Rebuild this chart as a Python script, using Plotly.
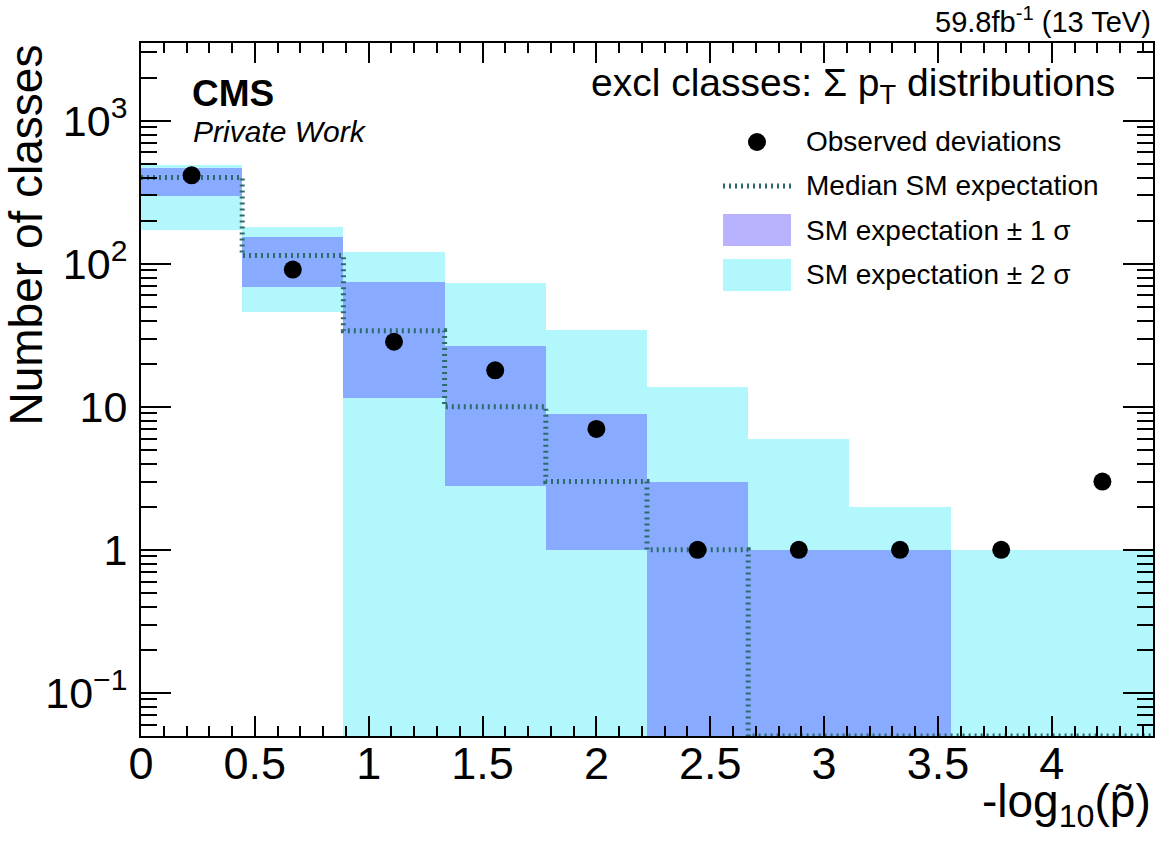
import plotly.graph_objects as go

# ---------------- data ----------------
bin_edges = [0.0, 0.4444, 0.8889, 1.3333, 1.7778, 2.2222, 2.6667, 3.1111, 3.5556, 4.0, 4.4444]
observed = [415, 91, 28.5, 18, 7, 1, 1, 1, 1, 3]
median = [400, 114, 34, 10, 3, 1, 0, 0, 0, 0]
sig1_lo = [296, 69, 11.6, 2.8, 1, 0, 0, 0, 0, 0]
sig1_hi = [467, 155, 74, 26.7, 8.9, 3, 1, 1, 0, 0]
sig2_lo = [171, 46, 0, 0, 0, 0, 0, 0, 0, 0]
sig2_hi = [492, 181, 121, 73.6, 34.5, 13.8, 6, 2, 1, 1]

y_tickvals = [0.1, 1, 10, 100, 1000]
y_ticktext = ["10<sup>\u22121</sup>", "1", "10", "10<sup>2</sup>", "10<sup>3</sup>"]

# ---------------- styling ----------------
FONT = "Liberation Sans, Arial, Helvetica, sans-serif"
W, H = 1159, 843
L, R, T, B = 141, 6, 43, 107
YMIN_LOG, YMAX_LOG = -1.301, 3.543
FLOOR = 1e-3  # zero content drawn off the bottom (clipped), as ROOT does

CYAN = "#b2f7fc"
BLUE = "#88aaff"
LAVENDER = "#b9b3fe"
TEAL = "#2e6b6b"

centers = [(bin_edges[i] + bin_edges[i + 1]) / 2 for i in range(len(bin_edges) - 1)]
widths = [bin_edges[i + 1] - bin_edges[i] for i in range(len(bin_edges) - 1)]


def band(lo, hi):
    base = [v if v > 0 else FLOOR for v in lo]
    h = [(hv - b) if hv > 0 else None for hv, b in zip(hi, base)]
    return base, h


fig = go.Figure()

b2, h2 = band(sig2_lo, sig2_hi)
fig.add_trace(go.Bar(x=centers, y=h2, base=b2, width=widths, marker=dict(color=CYAN, line=dict(width=0)),
                     showlegend=False, name="SM expectation \u00b1 2 \u03c3"))
b1, h1 = band(sig1_lo, sig1_hi)
fig.add_trace(go.Bar(x=centers, y=h1, base=b1, width=widths, marker=dict(color=BLUE, line=dict(width=0)),
                     showlegend=False, name="SM expectation \u00b1 1 \u03c3"))

med_plot = [v if v > 0 else 10 ** YMIN_LOG for v in median]
fig.add_trace(go.Scatter(x=bin_edges, y=med_plot + [med_plot[-1]], mode="lines", line_shape="hv",
                         line=dict(color=TEAL, width=5, dash="2px,4px"), showlegend=False,
                         name="Median SM expectation"))

fig.add_trace(go.Scatter(x=centers, y=observed, mode="markers",
                         marker=dict(color="black", size=18, line=dict(width=0)),
                         showlegend=False, name="Observed deviations", cliponaxis=False))

fig.update_layout(
    width=W, height=H,
    margin=dict(l=L, r=R, t=T, b=B, pad=0, autoexpand=False),
    plot_bgcolor="white", paper_bgcolor="white",
    barmode="overlay", bargap=0,
    font=dict(family=FONT, color="black"),
    showlegend=False,
)

fig.update_xaxes(
    range=[bin_edges[0], bin_edges[-1]], showgrid=False, zeroline=False,
    showline=True, linecolor="black", linewidth=2, mirror="allticks",
    ticks="inside", ticklen=20, tickwidth=1.5, tickcolor="black",
    dtick=0.5, tick0=0, tickfont=dict(size=45, family=FONT),
    minor=dict(ticks="inside", ticklen=10, tickwidth=1.5, tickcolor="black", dtick=0.1, showgrid=False),
    ticklabelstandoff=-13, automargin=False,
)

minor_vals = [m * 10 ** e for e in range(-2, 4) for m in range(2, 10)]
fig.update_yaxes(
    type="log", range=[YMIN_LOG, YMAX_LOG], showgrid=False, zeroline=False,
    showline=True, linecolor="black", linewidth=2, mirror="allticks",
    ticks="inside", ticklen=30, tickwidth=1.5, tickcolor="black",
    tickmode="array", tickvals=y_tickvals, ticktext=y_ticktext,
    tickfont=dict(size=43, family=FONT),
    minor=dict(ticks="inside", ticklen=16, tickwidth=1.5, tickcolor="black",
               tickmode="array", tickvals=minor_vals, showgrid=False),
    ticklabelstandoff=3, automargin=False,
)

PW = W - L - R
PH = H - T - B


def px(xp):
    return (xp - L) / PW


def py(yp):
    return (H - B - yp) / PH


ann = []
ann.append(dict(text="Number of classes", x=px(25), y=1.0, xref="paper", yref="paper",
                xanchor="center", yanchor="top", textangle=-90, showarrow=False,
                font=dict(size=46, family=FONT)))
ann.append(dict(text="-log<sub>10</sub>(p\u0303)", x=1.0, y=py(804), xref="paper", yref="paper",
                xanchor="right", yanchor="middle", showarrow=False,
                font=dict(size=46, family=FONT)))
ann.append(dict(text="<b>CMS</b>", x=px(190), y=py(93), xref="paper", yref="paper",
                xanchor="left", yanchor="middle", showarrow=False, font=dict(size=37, family=FONT)))
ann.append(dict(text="<i>Private Work</i>", x=px(191), y=py(131), xref="paper", yref="paper",
                xanchor="left", yanchor="middle", showarrow=False, font=dict(size=30, family=FONT)))
ann.append(dict(text="59.8fb<sup>-1</sup> (13 TeV)", x=1.0, y=py(20), xref="paper", yref="paper",
                xanchor="right", yanchor="middle", showarrow=False, font=dict(size=29, family=FONT)))
ann.append(dict(text="excl classes: \u03a3 p<sub>T</sub> distributions", x=px(1117), y=py(86),
                xref="paper", yref="paper", xanchor="right", yanchor="middle", showarrow=False,
                font=dict(size=39, family=FONT)))

leg_labels = ["Observed deviations", "Median SM expectation",
              "SM expectation \u00b1 1 \u03c3", "SM expectation \u00b1 2 \u03c3"]
leg_rows = [141, 185, 230, 274]
for lab, ry in zip(leg_labels, leg_rows):
    ann.append(dict(text=lab, x=px(804), y=py(ry), xref="paper", yref="paper",
                    xanchor="left", yanchor="middle", showarrow=False, font=dict(size=28, family=FONT)))

shapes = [
    dict(type="circle", xref="paper", yref="paper", x0=px(748), x1=px(766), y0=py(151), y1=py(133),
         fillcolor="black", line=dict(width=0)),
    dict(type="line", xref="paper", yref="paper", x0=px(723), x1=px(791), y0=py(186), y1=py(186),
         line=dict(color=TEAL, width=5, dash="2px,4px")),
    dict(type="rect", xref="paper", yref="paper", x0=px(723), x1=px(791), y0=py(246), y1=py(214),
         fillcolor=LAVENDER, line=dict(width=0)),
    dict(type="rect", xref="paper", yref="paper", x0=px(723), x1=px(791), y0=py(291), y1=py(259),
         fillcolor=CYAN, line=dict(width=0)),
]

fig.update_layout(annotations=ann, shapes=shapes)
fig.write_html("out.html", config={"displayModeBar": False},
               post_script="document.body.style.margin='0';document.body.style.overflow='hidden';")
